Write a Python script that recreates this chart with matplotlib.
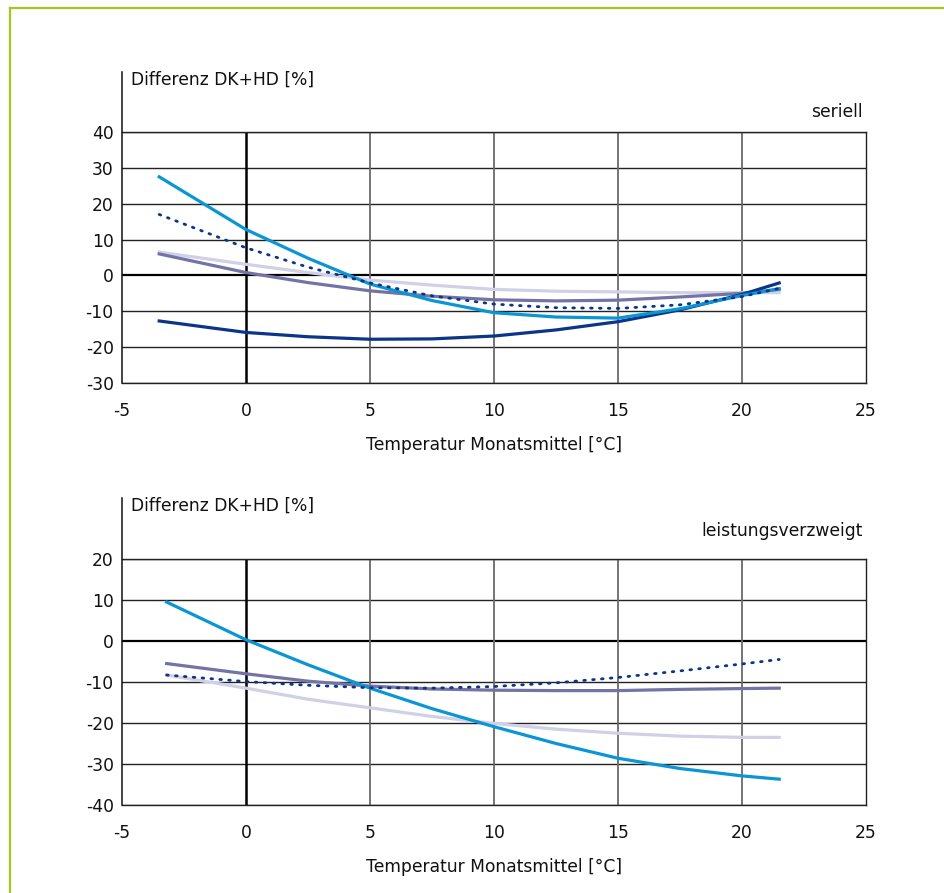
import matplotlib

matplotlib.use("Agg")
import matplotlib.pyplot as plt  # noqa: E402
from matplotlib.lines import Line2D  # noqa: E402

plt.rcParams["font.family"] = ["DejaVu Sans"]
plt.rcParams["axes.unicode_minus"] = False

# --- data: seriell (top) ---
t_top = [-3.5, 0, 2.5, 5, 7.5, 10, 12.5, 15, 17.5, 20, 21.5]
top_cyan = [27.5, 12.8, 4.8, -2.4, -7.0, -10.4, -11.6, -11.9, -9.3, -5.6, -3.7]
top_navy = [-12.7, -15.9, -17.1, -17.8, -17.7, -16.9, -15.2, -12.9, -9.6, -5.3, -2.1]
top_dot = [17.0, 7.7, 2.3, -2.1, -5.7, -8.0, -9.0, -9.2, -8.2, -5.9, -3.6]
top_purple = [6.0, 0.8, -2.0, -4.3, -5.8, -6.8, -7.1, -6.9, -6.0, -5.0, -3.9]
top_lav = [6.5, 3.1, 0.8, -1.3, -2.7, -3.9, -4.4, -4.6, -4.8, -4.8, -4.8]

# --- data: leistungsverzweigt (bottom) ---
t_bot = [-3.2, 0, 2.5, 5, 7.5, 10, 12.5, 15, 17.5, 20, 21.5]
bot_cyan = [9.5, 0.3, -5.8, -11.5, -16.5, -20.9, -25.0, -28.6, -31.1, -32.9, -33.7]
bot_dot = [-8.3, -9.9, -10.8, -11.4, -11.5, -11.1, -10.2, -8.9, -7.3, -5.6, -4.5]
bot_purple = [-5.5, -8.0, -9.8, -11.0, -11.7, -12.0, -12.1, -12.1, -11.8, -11.6, -11.5]
bot_lav = [-8.3, -11.5, -14.2, -16.3, -18.4, -20.1, -21.5, -22.5, -23.2, -23.5, -23.5]

x_ticks = [-5, 0, 5, 10, 15, 20, 25]
top_yticks = [-30, -20, -10, 0, 10, 20, 30, 40]
bot_yticks = [-40, -30, -20, -10, 0, 10, 20]

CYAN = "#0a95d4"
NAVY = "#0b3588"
PURPLE = "#7373a6"
LAV = "#d0d0e6"
GREEN = "#a2c81e"
FS = 12.3

W, H = 944, 893
fig = plt.figure(figsize=(W / 100, H / 100), dpi=100)

# green frame (top and left edge)
fig.add_artist(Line2D([10 / W, 1], [1 - 8 / H, 1 - 8 / H], color=GREEN, lw=1.6))
fig.add_artist(Line2D([10 / W, 10 / W], [0, 1 - 8 / H], color=GREEN, lw=1.6))


def setup(ax, yticks, ylim, spine_top_px, ylab_px, tag, tag_px):
    ax.set_xlim(-5, 25)
    ax.set_ylim(*ylim)
    ax.set_xticks(x_ticks)
    ax.set_yticks(yticks)
    ax.tick_params(length=0, labelsize=FS, pad=6, colors="#111111")
    ax.tick_params(axis="x", pad=14)
    for v in yticks:
        if v == 0:
            ax.axhline(v, color="black", lw=1.6, zorder=1)
        else:
            ax.axhline(v, color="#222222", lw=1.0, zorder=1)
    for v in x_ticks[1:-1]:
        if v == 0:
            ax.axvline(v, color="black", lw=1.8, zorder=1)
        else:
            ax.axvline(v, color="#6a6a6a", lw=1.3, zorder=1)
    for s in ax.spines.values():
        s.set_color("#222222")
        s.set_linewidth(1.0)
    ax.spines["left"].set_visible(False)
    x0 = 122 / W
    fig.add_artist(Line2D([x0, x0], [ax.get_position().y0, 1 - spine_top_px / H],
                          color="#111111", lw=1.1))
    fig.text(131 / W, 1 - ylab_px / H, "Differenz DK+HD [%]", fontsize=FS,
             va="center", ha="left", color="#111111")
    fig.text(863 / W, 1 - tag_px / H, tag, fontsize=FS, va="center", ha="right",
             color="#111111")
    ax.set_xlabel("Temperatur Monatsmittel [°C]", fontsize=FS, labelpad=11,
                  color="#111111")


ax1 = fig.add_axes([122 / W, 1 - 383 / H, 744 / W, 251 / H])
setup(ax1, top_yticks, (-30, 40), 72, 80, "seriell", 112)
ax1.plot(t_top, top_lav, color=LAV, lw=2.3, zorder=3)
ax1.plot(t_top, top_purple, color=PURPLE, lw=2.3, zorder=3)
ax1.plot(t_top, top_navy, color=NAVY, lw=2.3, zorder=4)
ax1.plot(t_top, top_cyan, color=CYAN, lw=2.3, zorder=4)
ax1.plot(t_top, top_dot, color=NAVY, lw=2.0, dashes=(0.6, 2.6),
         dash_capstyle="round", zorder=5)

ax2 = fig.add_axes([122 / W, 1 - 805 / H, 744 / W, 246 / H])
setup(ax2, bot_yticks, (-40, 20), 498, 506, "leistungsverzweigt", 531)
ax2.plot(t_bot, bot_lav, color=LAV, lw=2.3, zorder=3)
ax2.plot(t_bot, bot_purple, color=PURPLE, lw=2.3, zorder=3)
ax2.plot(t_bot, bot_cyan, color=CYAN, lw=2.3, zorder=4)
ax2.plot(t_bot, bot_dot, color=NAVY, lw=2.0, dashes=(0.6, 2.6),
         dash_capstyle="round", zorder=5)

fig.savefig("out.png", dpi=100)
